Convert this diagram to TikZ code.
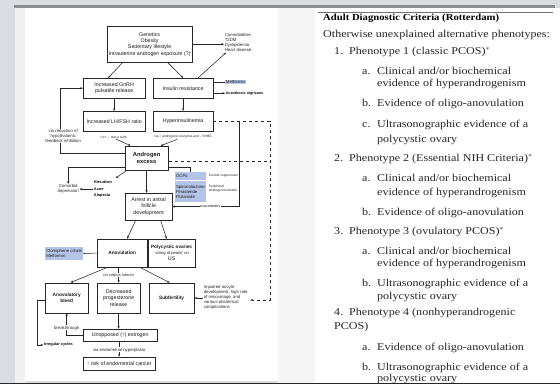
\documentclass[tikz,border=0pt]{standalone}
\usepackage{fontspec}
\newfontfamily\flowfont{Liberation Sans}
\newfontfamily\critfont[FakeStretch=1.15]{Liberation Serif}
\usetikzlibrary{positioning,arrows.meta}
\definecolor{slidegray}{HTML}{DADCE2}
\definecolor{rxblue}{HTML}{B4C4E8}

\begin{document}
\begin{tikzpicture}[x=1pt,y=-1pt,
  font=\flowfont\fontsize{5.3}{6.3}\selectfont,
  box/.style={draw=black!85,line width=0.55pt,align=center,inner sep=1pt,text=black!90},
  keybox/.style={box,line width=0.9pt,font=\flowfont\bfseries\fontsize{4.8}{5.8}\selectfont},
  note/.style={align=left,anchor=west,inner sep=0.5pt,text=black!85,font=\flowfont\fontsize{4.3}{5}\selectfont},
  cnote/.style={note,anchor=center,align=center},
  tiny/.style={align=center,inner sep=0.5pt,text=black!85,font=\flowfont\fontsize{3.3}{4}\selectfont},
  bnote/.style={note,font=\flowfont\bfseries\fontsize{3.9}{6.5}\selectfont,text=black},
  rx/.style={fill=rxblue,inner sep=1pt,align=left,text=black!90,font=\flowfont\fontsize{4.3}{5}\selectfont},
  crit/.style={anchor=base west,inner sep=0pt,text=black!85,font=\critfont\fontsize{10.5}{12}\selectfont},
  >={Stealth[length=2.6pt,width=2.2pt]},
  every path/.style={draw=black!85,line width=0.55pt}
]
\useasboundingbox (0,0) rectangle (560,383);
% slide background
\fill[slidegray,draw=none] (0,0) rectangle (560,383);
\fill[black!6,draw=none] (15,8) rectangle (25,383);
\fill[white,draw=none] (25,8) rectangle (278,381);
\fill[black!4,draw=none] (278,8) rectangle (315,383);
\fill[white,draw=none] (315,8) rectangle (560,383);
\fill[black!45,draw=none] (14,5) rectangle (555,8);
\draw[black!55,line width=0.8pt] (318,12) -- (553,12);

% flowchart boxes
\node[box,minimum width=85pt,minimum height=36pt] (cause) at (149.5,44) {Genetics\\Obesity\\Sedentary lifestyle\\Intrauterine androgen exposure (?)};
\node[box,minimum width=62pt,minimum height=20pt] (gnrh) at (114,88) {Increased GnRH\\pulsatile release};
\node[box,minimum width=60pt,minimum height=20pt] (insres) at (183,88) {Insulin resistance};
\node[box,minimum width=62pt,minimum height=20pt] (lhfsh) at (114,121) {Increased LH/FSH ratio};
\node[box,minimum width=60pt,minimum height=20pt] (hyper) at (183,121) {Hyperinsulinemia};
\node[keybox,minimum width=43pt,minimum height=24pt,font=\flowfont\bfseries\fontsize{5.8}{7.5}\selectfont] (andro) at (146.5,158) {Androgen\\excess};
\node[box,minimum width=47pt,minimum height=27pt] (arrest) at (148.5,206.5) {Arrest in antral\\follicle\\development};
\node[keybox,minimum width=50pt,minimum height=28pt] (anov) at (122,253) {Anovulation};
\node[box,minimum width=47pt,minimum height=28pt] (pco) at (171.5,253) {\bfseries\fontsize{4.7}{6}\selectfont Polycystic ovaries\\\mdseries\fontsize{4.1}{5}\selectfont `string of pearls' on\\US};
\node[keybox,minimum width=43pt,minimum height=30pt] (bleed) at (66.5,298) {Anovulatory\\bleed};
\node[box,minimum width=43pt,minimum height=30pt] (decprog) at (118.5,298) {Decreased\\progesterone\\release};
\node[keybox,minimum width=45pt,minimum height=30pt] (subf) at (171.5,298) {Subfertility};
\node[box,minimum width=74pt,minimum height=12pt] (unopp) at (120,335) {Unopposed (↑) estrogen};
\node[box,minimum width=72pt,minimum height=13pt] (cancer) at (119,363.5) {↑ risk of endometrial cancer};

% side notes and treatments
\node[note] (comorb) at (224,42.5) {Comorbidities\\T2DM\\Dyslipidemia\\Heart disease};
\node[rx,anchor=west,inner sep=0.6pt] (metf) at (225,82) {Metformin};
\node[bnote,font=\flowfont\bfseries\fontsize{3.7}{4.5}\selectfont] (acan) at (225,93) {Acanthosis nigricans};
\node[tiny] (lblh) at (113,137) {↑LH → theca cells};
\node[tiny] (lbhyp) at (183,137) {via ↑ androgenic enzymes and ↓ SHBG};
\node[bnote] (hirs) at (93,189) {Hirsutism\\Acne\\Alopecia};
\node[cnote] (depr) at (68,189) {Comorbid\\depression};
\node[rx,minimum width=31pt,text width=29pt,minimum height=8pt] (ocp) at (190.5,176) {OCPs};
\node[rx,minimum width=31pt,text width=29pt,minimum height=21pt] (anti) at (190.5,191.5) {Spironolactone\\Finasteride\\Flutamide};
\node[tiny,anchor=west,align=left] (central) at (208,176) {Central suppression};
\node[tiny,anchor=west,align=left] (periph) at (208,189) {Peripheral\\androgen blockade};
\node[rx,minimum width=38pt,minimum height=13pt] (clomi) at (64,253.5) {Clomiphene citrate\\Metformin};
\node[note] (oocyte) at (203,297) {Impaired oocyte\\development, high rate\\of miscarriage, and\\various obstetrical\\complications};
\node[bnote] (irreg) at (43,345) {Irregular cycles};
\coordinate (dtop) at (270,121);
\coordinate (dbot) at (270,300);
\coordinate (exc) at (239,121);

% connectors
\draw[->] ([xshift=-27pt]cause.south) -- ([xshift=-6pt]gnrh.north);
\draw[->] ([xshift=18pt]cause.south) -- (insres.north);
\draw[->] (cause.east) -- (comorb.west |- cause.east);
\draw[->] ([xshift=15pt]insres.north) -- ([xshift=2pt]comorb.south west);
\draw (metf.west -| insres.east) -- (metf.west);
\draw[->] (acan.west -| insres.east) -- (acan.west);
\draw[->] (gnrh) -- (lhfsh);
\draw[->] (insres) -- (hyper);
\draw[->] ([xshift=3pt]lblh.south) -- ([xshift=-16pt]andro.north);
\draw[->] ([xshift=-6pt]lbhyp.south) -- ([xshift=14pt]andro.north);
\draw[->] ([yshift=5pt]andro.west) -| ([xshift=-23pt]gnrh.west) -- (gnrh.west);
\draw[->] ([xshift=-20pt]andro.south) -- ([shift={(3pt,2pt)}]hirs.north east);
\draw[->] (hirs.west) -- (depr.east |- hirs.west);
\draw[->] ([yshift=-9pt]andro.west) -| (depr.north);
\draw[->] (andro.south) -- (andro.south |- arrest.north);
\draw[dashed] ([yshift=-3pt]andro.east) -- ([yshift=-3pt]andro.east -| dtop);
\draw ([yshift=-9pt]andro.east) -| (ocp.north);
\draw[dashed,->] (hyper.east) -- (dtop) -- (dbot) -- ([xshift=2pt]dbot -| oocyte.east);
\draw[->] (exc) |- (arrest.east);
\draw[->] ([xshift=-13pt]arrest.south) -- ([xshift=5pt]anov.north);
\draw[->] ([xshift=12pt]arrest.south) -- ([xshift=-5pt]pco.north);
\draw (clomi.east) -- (anov.west);
\draw[->] ([xshift=-15pt]anov.south) -- ([xshift=4pt]bleed.north);
\draw[->] (decprog.north |- anov.south) -- (decprog.north);
\draw[->] ([xshift=18pt]anov.south) -- ([xshift=-2pt]subf.north);
\draw[->] (subf.east -| oocyte.west) -- (subf.east);
\draw[->] (decprog.south) -- (decprog.south |- unopp.north);
\draw[->] (unopp.west) -| (bleed.south);
\draw[->] ([yshift=-2pt]bleed.west) -- ([xshift=-8pt,yshift=-2pt]bleed.west) |- (irreg.west);
\draw[->] (unopp.south -| cancer.north) -- (cancer.north);

% labels sitting on connectors
\node[cnote,fill=white] (fbnote) at (63,136) {via reduction of\\hypothalamic\\feedback inhibition};
\node[tiny,fill=white,font=\flowfont\fontsize{3.7}{4}\selectfont] (exacer) at (210,206.5) {exacerbates};
\node[cnote,fill=white,font=\flowfont\fontsize{4}{4.5}\selectfont] (nocl) at (118.5,275) {no corpus luteum};
\node[cnote,fill=white] (brk) at (66.5,328) {breakthrough};
\node[cnote,fill=white] (hyperpl) at (119,350) {via endometrial hyperplasia};

% diagnostic criteria
\node[crit,text=black,font=\critfont\bfseries\fontsize{9.3}{11}\selectfont] (title) at (323,20.5) {Adult Diagnostic Criteria (Rotterdam)};
\node[crit] (intro) at (323,37.5) {Otherwise unexplained alternative phenotypes:};
\node[crit] (n1) at (334,54.5) {1.};
\node[crit] (p1) at (349,54.5) {Phenotype 1 (classic PCOS)$^*$};
\node[crit] (a1) at (362,74.5) {a.};
\node[crit] (a1t) at (377,74.5) {Clinical and/or biochemical};
\node[crit] (a1u) at (377,86.5) {evidence of hyperandrogenism};
\node[crit] (b1) at (362,106.5) {b.};
\node[crit] (b1t) at (377,106.5) {Evidence of oligo-anovulation};
\node[crit] (c1) at (362,127.5) {c.};
\node[crit] (c1t) at (377,127.5) {Ultrasonographic evidence of a};
\node[crit] (c1u) at (377,142.5) {polycystic ovary};
\node[crit] (n2) at (334,161.5) {2.};
\node[crit] (p2) at (349,161.5) {Phenotype 2 (Essential NIH Criteria)$^*$};
\node[crit] (a2) at (362,181.5) {a.};
\node[crit] (a2t) at (377,181.5) {Clinical and/or biochemical};
\node[crit] (a2u) at (377,195.5) {evidence of hyperandrogenism};
\node[crit] (b2) at (362,215.5) {b.};
\node[crit] (b2t) at (377,215.5) {Evidence of oligo-anovulation};
\node[crit] (n3) at (334,234.5) {3.};
\node[crit] (p3) at (349,234.5) {Phenotype 3 (ovulatory PCOS)$^*$};
\node[crit] (a3) at (362,254.5) {a.};
\node[crit] (a3t) at (377,254.5) {Clinical and/or biochemical};
\node[crit] (a3u) at (377,266.5) {evidence of hyperandrogenism};
\node[crit] (b3) at (362,286.5) {b.};
\node[crit] (b3t) at (377,286.5) {Ultrasonographic evidence of a};
\node[crit] (b3u) at (377,299.5) {polycystic ovary};
\node[crit] (n4) at (334,315.5) {4.};
\node[crit] (p4) at (349,315.5) {Phenotype 4 (nonhyperandrogenic};
\node[crit] (p4u) at (334,329.5) {PCOS)};
\node[crit] (a4) at (362,350.5) {a.};
\node[crit] (a4t) at (377,350.5) {Evidence of oligo-anovulation};
\node[crit] (b4) at (362,370.5) {b.};
\node[crit] (b4t) at (377,370.5) {Ultrasonographic evidence of a};
\node[crit] (b4u) at (377,381.5) {polycystic ovary};
\end{tikzpicture}
\end{document}
